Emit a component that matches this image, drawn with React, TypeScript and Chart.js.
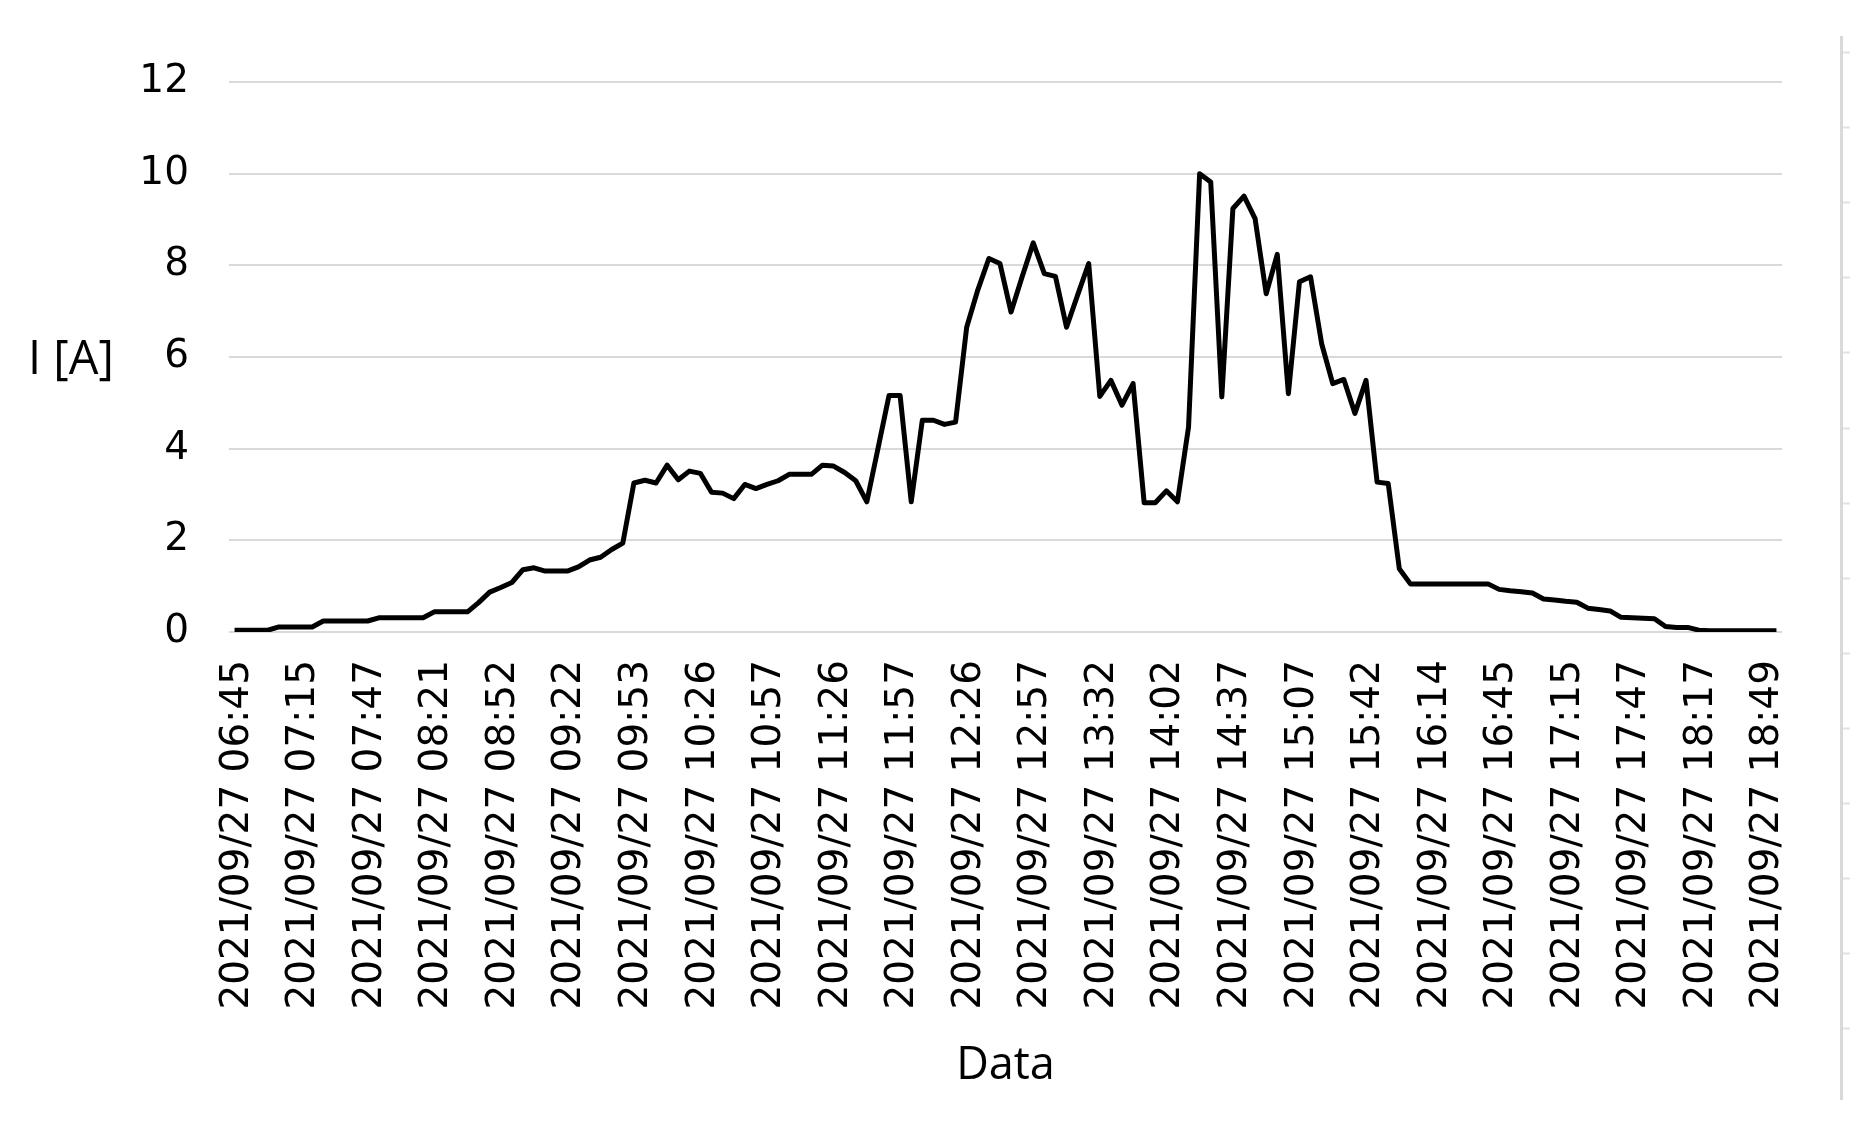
import React, { useEffect, useRef } from "react";
import { Chart, registerables } from "chart.js";

Chart.register(...registerables);

// Tick labels shown on the category axis (one every `labelEvery` samples)
const tickLabels: string[] = [
  "2021/09/27 06:45", "2021/09/27 07:15", "2021/09/27 07:47", "2021/09/27 08:21",
  "2021/09/27 08:52", "2021/09/27 09:22", "2021/09/27 09:53", "2021/09/27 10:26",
  "2021/09/27 10:57", "2021/09/27 11:26", "2021/09/27 11:57", "2021/09/27 12:26",
  "2021/09/27 12:57", "2021/09/27 13:32", "2021/09/27 14:02", "2021/09/27 14:37",
  "2021/09/27 15:07", "2021/09/27 15:42", "2021/09/27 16:14", "2021/09/27 16:45",
  "2021/09/27 17:15", "2021/09/27 17:47", "2021/09/27 18:17", "2021/09/27 18:49",
];
const labelEvery = 6;

// Current I [A], one value per sample
const currentA: number[] = [
  0.04, 0.04, 0.04, 0.04, 0.11, 0.11, 0.11, 0.11, 0.24, 0.24,
  0.24, 0.24, 0.24, 0.31, 0.31, 0.31, 0.31, 0.31, 0.44, 0.44,
  0.44, 0.44, 0.64, 0.87, 0.97, 1.08, 1.36, 1.40, 1.33, 1.33,
  1.33, 1.42, 1.57, 1.63, 1.80, 1.94, 3.25, 3.31, 3.25, 3.64,
  3.32, 3.51, 3.46, 3.05, 3.03, 2.91, 3.22, 3.13, 3.22, 3.30,
  3.44, 3.44, 3.44, 3.64, 3.62, 3.48, 3.30, 2.84, 4.00, 5.16,
  5.16, 2.84, 4.62, 4.62, 4.53, 4.58, 6.65, 7.46, 8.15, 8.04,
  6.98, 7.75, 8.49, 7.82, 7.76, 6.65, 7.35, 8.04, 5.14, 5.49,
  4.95, 5.42, 2.82, 2.82, 3.08, 2.84, 4.47, 10.0, 9.82, 5.13,
  9.24, 9.51, 9.02, 7.38, 8.24, 5.20, 7.64, 7.75, 6.29, 5.42,
  5.51, 4.77, 5.49, 3.27, 3.24, 1.38, 1.05, 1.05, 1.05, 1.05,
  1.05, 1.05, 1.05, 1.05, 0.93, 0.90, 0.88, 0.85, 0.72, 0.70,
  0.67, 0.65, 0.52, 0.49, 0.46, 0.32, 0.31, 0.30, 0.29, 0.12,
  0.10, 0.10, 0.04, 0.03, 0.03, 0.03, 0.03, 0.03, 0.03, 0.03,
];

const yMin = 0;
const yMax = 12;
const yStep = 2;

const xTitle = "Data";
const yTitle = "I [A]";

const categories: string[] = currentA.map((_, i) =>
  i % labelEvery === 0 && tickLabels[i / labelEvery] !== undefined ? tickLabels[i / labelEvery] : ""
);

const W = 1872;
const H = 1139;

const decorPlugin = {
  id: "decor",
  afterDraw(chart: any) {
    const { ctx, chartArea } = chart;
    ctx.save();
    ctx.font = '47px "Open Sans"';
    ctx.fillStyle = "#000";
    ctx.textAlign = "left";
    ctx.textBaseline = "alphabetic";
    const midY = (chartArea.top + chartArea.bottom) / 2;
    ctx.fillText(yTitle, 28, midY + 17);

    // spreadsheet edge at the right
    ctx.strokeStyle = "#d9d9d9";
    ctx.lineWidth = 3;
    ctx.beginPath();
    ctx.moveTo(1841.5, 36);
    ctx.lineTo(1841.5, 1100);
    ctx.stroke();
    ctx.strokeStyle = "#e2e2e2";
    ctx.lineWidth = 2;
    for (let y = 52; y < 1100; y += 75.1) {
      ctx.beginPath();
      ctx.moveTo(1843, Math.round(y) + 0.5);
      ctx.lineTo(1850, Math.round(y) + 0.5);
      ctx.stroke();
    }
    ctx.restore();
  },
};

export default function App() {
  const ref = useRef<HTMLCanvasElement | null>(null);

  useEffect(() => {
    if (!ref.current) return;
    const chart = new Chart(ref.current, {
      type: "line",
      data: {
        labels: categories,
        datasets: [
          {
            label: yTitle,
            data: currentA,
            borderColor: "#000",
            borderWidth: 5,
            pointRadius: 0,
            tension: 0,
            fill: false,
            borderJoinStyle: "round",
          },
        ],
      },
      options: {
        animation: false,
        responsive: false,
        devicePixelRatio: 1,
        layout: { padding: { top: 82, right: 90, left: 0, bottom: 0 } },
        plugins: {
          legend: { display: false },
          tooltip: { enabled: false },
          title: { display: false },
        },
        scales: {
          x: {
            type: "category",
            offset: true,
            grid: { display: false, drawTicks: false },
            border: { display: false },
            ticks: {
              autoSkip: false,
              minRotation: 90,
              maxRotation: 90,
              padding: 28,
              labelOffset: 3,
              color: "#000",
              font: { family: "DejaVu Sans", size: 39 },
            },
            title: {
              display: true,
              text: xTitle,
              color: "#000",
              font: { family: "Open Sans", size: 45 },
              padding: { top: 0, bottom: 46 },
            },
            afterFit: (scale: any) => {
              scale.height = H - 632;
            },
          },
          y: {
            min: yMin,
            max: yMax,
            grid: { color: "#d9d9d9", lineWidth: 2, drawTicks: false },
            border: { display: false },
            ticks: {
              stepSize: yStep,
              padding: 40,
              color: "#000",
              font: { family: "DejaVu Sans", size: 39 },
            },
            afterFit: (scale: any) => {
              scale.width = 229;
            },
          },
        },
      },
      plugins: [decorPlugin],
    });
    return () => chart.destroy();
  }, []);

  return (
    <div style={{ position: "absolute", left: 0, top: 0, width: W, height: H, background: "#fff" }}>
      <canvas ref={ref} width={W} height={H} style={{ width: W, height: H, display: "block" }} />
    </div>
  );
}
